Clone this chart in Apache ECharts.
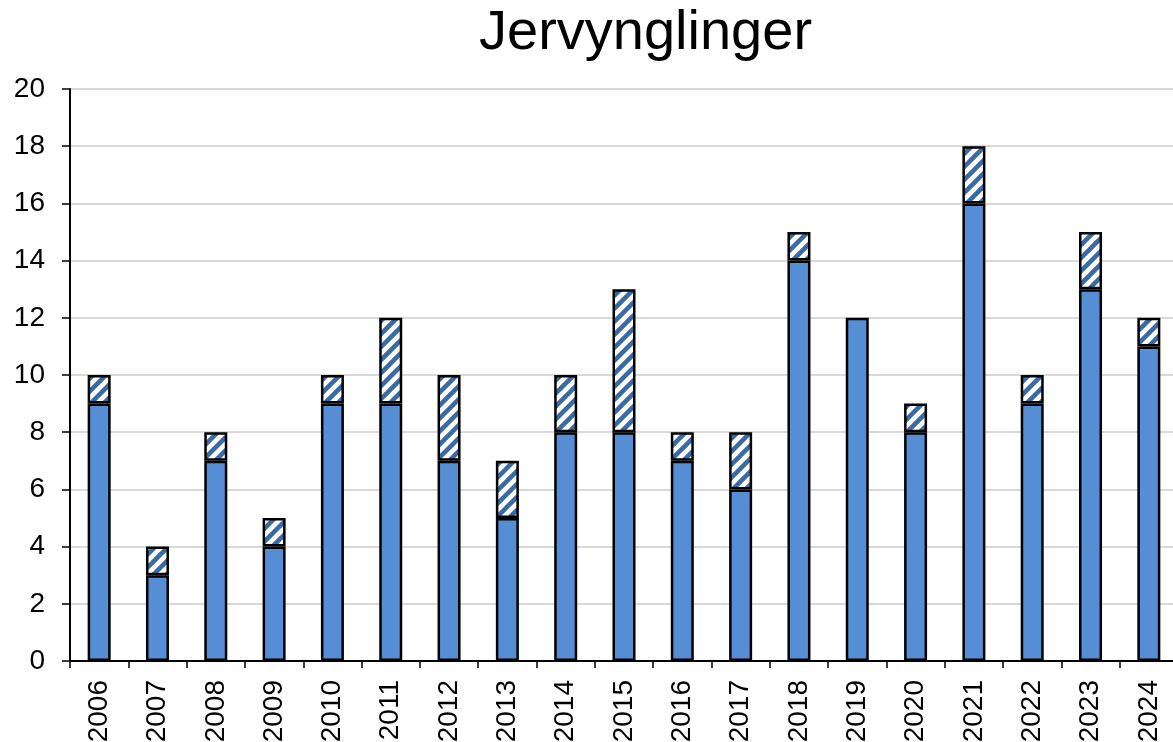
<!DOCTYPE html>
<html>
<head>
    <meta http-equiv="content-type" content="text/html;charset=utf-8">
    <script src="https://cdn.jsdelivr.net/npm/echarts@6/dist/echarts.min.js"></script>
    <style>
        html, body { margin: 0; padding: 0; background: #fff; }
    </style>
</head>
<body>
<div id="chart" style="width:1173px;height:742px;"></div>

<script type="text/javascript">
    var years = ['2006','2007','2008','2009','2010','2011','2012','2013','2014','2015',
                 '2016','2017','2018','2019','2020','2021','2022','2023','2024'];
    var solidVals = [9, 3, 7, 4, 9, 9, 7, 5, 8, 8, 7, 6, 14, 12, 8, 16, 9, 13, 11];
    var hatchVals = [1, 1, 1, 1, 1, 3, 3, 2, 2, 5, 1, 2, 1, null, 1, 2, 1, 2, 1];
    var yTicks = [0, 2, 4, 6, 8, 10, 12, 14, 16, 18, 20];

    // diagonal stripe pattern for the upper part
    function makeHatch() {
        var c = document.createElement('canvas');
        c.width = 13; c.height = 13;
        var ctx = c.getContext('2d');
        ctx.fillStyle = '#ffffff';
        ctx.fillRect(0, 0, 13, 13);
        ctx.strokeStyle = '#3a6aa5';
        ctx.lineWidth = 4.5;
        ctx.beginPath();
        ctx.moveTo(-3, 16); ctx.lineTo(16, -3);
        ctx.moveTo(-10, 10); ctx.lineTo(10, -10);
        ctx.moveTo(3, 23); ctx.lineTo(23, 3);
        ctx.stroke();
        return c;
    }

    var myChart = echarts.init(document.getElementById('chart'));
    var option = {
        animation: false,
        title: {
            text: 'Jervynglinger',
            left: 474,
            top: 1,
            textStyle: {
                fontFamily: 'Liberation Sans',
                fontSize: 56,
                fontWeight: 'normal',
                color: '#000'
            }
        },
        grid: {
            left: 70,
            top: 89,
            width: 1108,
            bottom: 81,
            containLabel: false,
            outerBoundsMode: 'none'
        },
        xAxis: {
            type: 'category',
            data: years,
            boundaryGap: true,
            axisLine: { lineStyle: { color: '#000', width: 2 } },
            axisTick: { show: true, length: 7, lineStyle: { color: '#000', width: 1.5 } },
            axisLabel: {
                rotate: 90,
                margin: 19,
                fontFamily: 'Liberation Sans',
                fontSize: 28,
                color: '#000'
            }
        },
        yAxis: {
            type: 'value',
            min: yTicks[0],
            max: yTicks[yTicks.length - 1],
            interval: 2,
            axisLine: { show: true, lineStyle: { color: '#000', width: 2 } },
            axisTick: { show: true, length: 8, lineStyle: { color: '#000', width: 1.5 } },
            axisLabel: {
                margin: 25,
                fontFamily: 'Liberation Sans',
                fontSize: 28,
                color: '#000'
            },
            splitLine: { lineStyle: { color: '#d9d9d9', width: 2 } }
        },
        series: [
            {
                type: 'bar',
                stack: 'total',
                data: solidVals,
                barWidth: 23,
                itemStyle: { color: '#558ed5', borderColor: '#000', borderWidth: 2.5 }
            },
            {
                type: 'bar',
                stack: 'total',
                data: hatchVals,
                barWidth: 23,
                itemStyle: {
                    color: { image: makeHatch(), repeat: 'repeat' },
                    borderColor: '#000',
                    borderWidth: 2.5
                }
            }
        ]
    };
    myChart.setOption(option);
</script>
</body>
</html>
